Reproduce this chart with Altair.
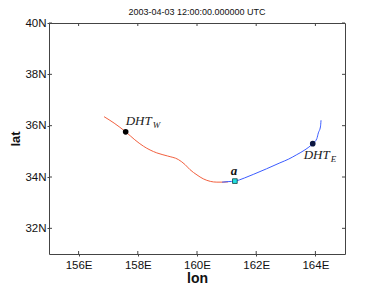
import altair as alt
import pandas as pd

# Red (western) branch of the trajectory
west_lon = [156.86, 157.20, 157.59, 157.90, 158.19, 158.64, 159.00, 159.37, 159.60, 159.76,
            160.00, 160.21, 160.45, 160.67, 160.90, 161.05]
west_lat = [36.35, 36.10, 35.76, 35.45, 35.20, 34.94, 34.82, 34.68, 34.48, 34.29,
            34.08, 33.93, 33.83, 33.80, 33.80, 33.81]
# Blue (eastern) branch
east_lon = [160.85, 161.05, 161.28, 161.60, 161.90, 162.35, 162.80, 163.10, 163.37, 163.65,
            163.91, 164.05, 164.10, 164.17, 164.19]
east_lat = [33.80, 33.82, 33.84, 33.96, 34.10, 34.32, 34.55, 34.70, 34.87, 35.06,
            35.30, 35.50, 35.72, 35.95, 36.21]

# Marked points
dht_w = (157.59, 35.76)
dht_e = (163.91, 35.30)
point_a = (161.28, 33.84)

lon_ticks = [156, 158, 160, 162, 164]
lat_ticks = [32, 34, 36, 38, 40]
lon_domain = [155, 165]
lat_domain = [31, 40]
title_text = "2003-04-03 12:00:00.000000 UTC"

W, H = 296, 231

west = pd.DataFrame({"lon": west_lon, "lat": west_lat, "i": range(len(west_lon))})
east = pd.DataFrame({"lon": east_lon, "lat": east_lat, "i": range(len(east_lon))})

xs = alt.Scale(domain=lon_domain, nice=False, zero=False)
ys = alt.Scale(domain=lat_domain, nice=False, zero=False)

axis_common = dict(grid=False, domain=False, ticks=True, tickSize=2, tickColor="#444",
                   labelFont="Liberation Sans", labelFontSize=11.5, labelColor="#111",
                   titleFont="Liberation Sans", titleFontWeight="bold", titleColor="#111")

X = alt.X("lon:Q", scale=xs, title="lon",
          axis=alt.Axis(values=lon_ticks, labelExpr="datum.value + 'E'",
                        labelPadding=3, titlePadding=1, titleFontSize=14, **axis_common))
Y = alt.Y("lat:Q", scale=ys, title="lat",
          axis=alt.Axis(values=lat_ticks, labelExpr="datum.value + 'N'",
                        labelPadding=1, titlePadding=2, titleFontSize=13, **axis_common))

west_line = alt.Chart(west).mark_line(color="#f2603f", strokeWidth=1, interpolate="monotone").encode(
    x=X, y=Y, order="i:Q")
east_line = alt.Chart(east).mark_line(color="#3b5cff", strokeWidth=1, interpolate="monotone").encode(
    x=X, y=Y, order="i:Q")

def pt_df(p):
    return pd.DataFrame({"lon": [p[0]], "lat": [p[1]]})

dot_w = alt.Chart(pt_df(dht_w)).mark_circle(color="black", size=32, opacity=1).encode(x=X, y=Y)
dot_e = alt.Chart(pt_df(dht_e)).mark_circle(color="#0b1640", size=32, opacity=1).encode(x=X, y=Y)
sq_a = alt.Chart(pt_df(point_a)).mark_square(color="#22e0e0", size=22, opacity=1,
                                              stroke="#114444", strokeWidth=0.8).encode(x=X, y=Y)

serif = "Liberation Serif"
lab_w = alt.Chart(pt_df(dht_w)).mark_text(text="DHT", font=serif, fontStyle="italic", fontSize=13,
                                          align="left", baseline="alphabetic", dx=0, dy=-7,
                                          color="#222").encode(x=X, y=Y)
lab_w_sub = alt.Chart(pt_df(dht_w)).mark_text(text="W", font=serif, fontStyle="italic", fontSize=9,
                                              align="left", baseline="alphabetic", dx=27, dy=-4,
                                              color="#222").encode(x=X, y=Y)
lab_e = alt.Chart(pt_df(dht_e)).mark_text(text="DHT", font=serif, fontStyle="italic", fontSize=13,
                                          align="left", baseline="alphabetic", dx=-9, dy=15,
                                          color="#222").encode(x=X, y=Y)
lab_e_sub = alt.Chart(pt_df(dht_e)).mark_text(text="E", font=serif, fontStyle="italic", fontSize=9,
                                              align="left", baseline="alphabetic", dx=18, dy=18,
                                              color="#222").encode(x=X, y=Y)
lab_a = alt.Chart(pt_df(point_a)).mark_text(text="a", font=serif, fontStyle="italic", fontWeight="bold",
                                            fontSize=13, align="center", baseline="alphabetic",
                                            dx=-1, dy=-6, color="#111").encode(x=X, y=Y)

# chart title drawn as text above the plot area
title_mark = alt.Chart(pd.DataFrame({"t": [title_text]})).mark_text(
    font="Liberation Sans", fontSize=9, color="#111", align="center", baseline="alphabetic"
).encode(text="t:N", x=alt.value(W / 2), y=alt.value(-8))

# inward ticks on all four sides
xt = pd.DataFrame({"lon": lon_ticks})
yt = pd.DataFrame({"lat": lat_ticks})
tick_style = dict(color="#444", strokeWidth=1)
tb = alt.Chart(xt).mark_rule(**tick_style).encode(x=X, y=alt.value(H), y2=alt.value(H - 3))
tt = alt.Chart(xt).mark_rule(**tick_style).encode(x=X, y=alt.value(0), y2=alt.value(3))
tl = alt.Chart(yt).mark_rule(**tick_style).encode(y=Y, x=alt.value(0), x2=alt.value(3))
tr = alt.Chart(yt).mark_rule(**tick_style).encode(y=Y, x=alt.value(W), x2=alt.value(W - 3))

chart = alt.layer(
    west_line, east_line, tb, tt, tl, tr, dot_w, dot_e, sq_a, lab_w, lab_w_sub, lab_e, lab_e_sub,
    lab_a, title_mark
).properties(
    width=W, height=H,
    autosize=alt.AutoSizeParams(type="none"),
    padding={"left": 41, "top": 15, "right": 25, "bottom": 33},
).configure_view(stroke="#444", strokeWidth=1)

chart.save("out.html", embed_options={"renderer": "svg", "actions": False})
